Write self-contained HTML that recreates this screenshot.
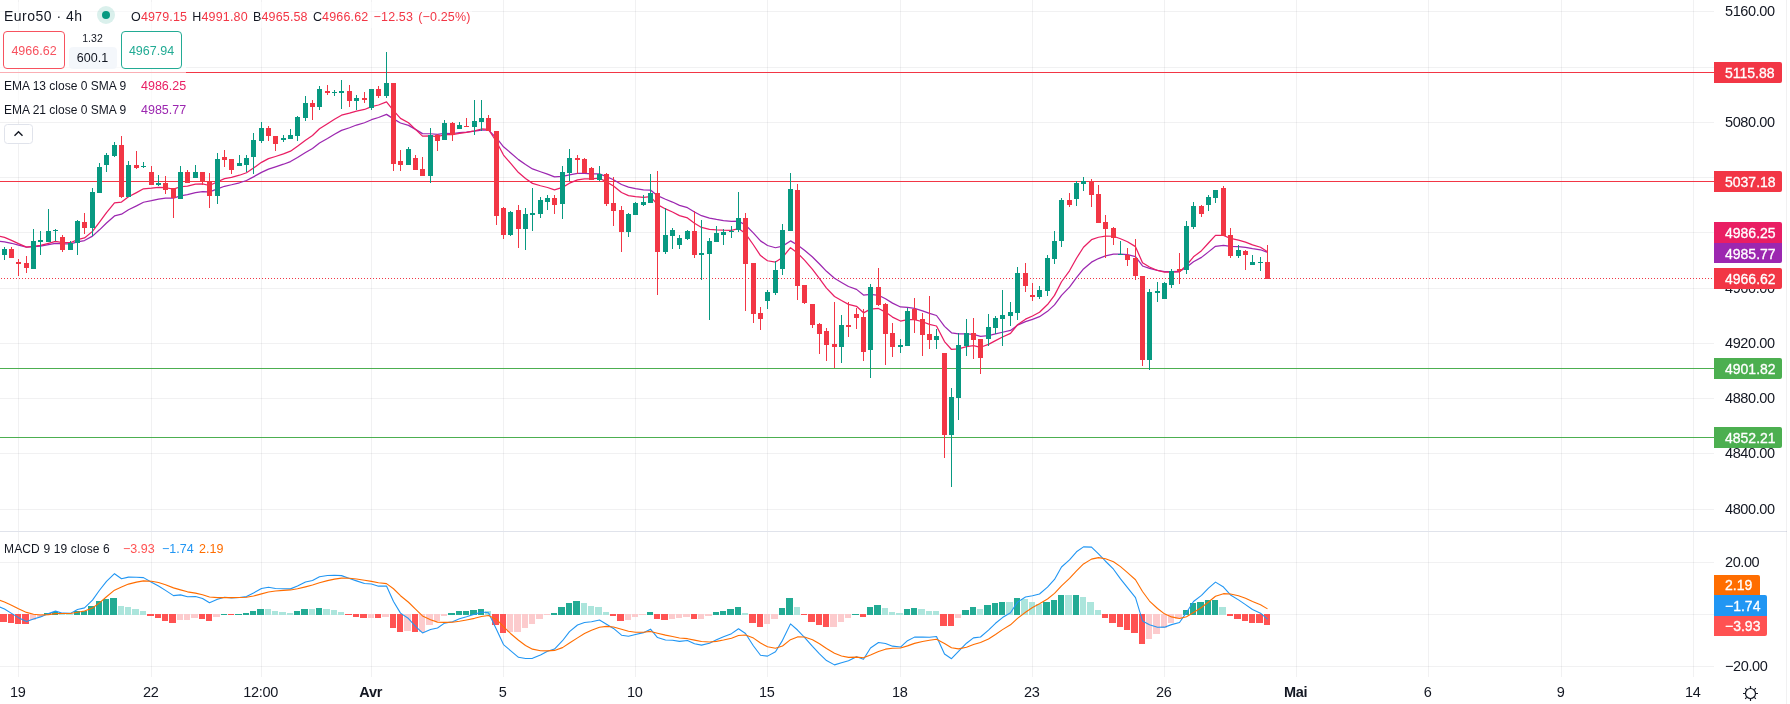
<!DOCTYPE html>
<html><head><meta charset="utf-8">
<style>
html,body{margin:0;padding:0;background:#fff;}
body{width:1790px;height:704px;overflow:hidden;position:relative;font-family:"Liberation Sans",sans-serif;color:#131722;}
svg{position:absolute;left:0;top:0;will-change:transform;}
</style></head><body>
<svg width="1790" height="704" viewBox="0 0 1790 704" shape-rendering="crispEdges">
<g shape-rendering="auto">
<path d="M0 11.5H1714 M0 67.5H1714 M0 122.5H1714 M0 177.5H1714 M0 232.5H1714 M0 288.5H1714 M0 343.5H1714 M0 398.5H1714 M0 453.5H1714 M0 509.5H1714 M0 562.5H1714 M0 614.5H1714 M0 666.5H1714 M18.5 0V531M18.5 532V677 M151.5 0V531M151.5 532V677 M261.5 0V531M261.5 532V677 M371.5 0V531M371.5 532V677 M503.5 0V531M503.5 532V677 M635.5 0V531M635.5 532V677 M767.5 0V531M767.5 532V677 M900.5 0V531M900.5 532V677 M1032.5 0V531M1032.5 532V677 M1164.5 0V531M1164.5 532V677 M1296.5 0V531M1296.5 532V677 M1428.5 0V531M1428.5 532V677 M1561.5 0V531M1561.5 532V677 M1693.5 0V531M1693.5 532V677" stroke="#2A2E39" stroke-opacity="0.065" stroke-width="1" fill="none"/>
<rect x="0" y="531" width="1787" height="1" fill="#E0E3EB"/>
<rect x="1786" y="0" width="1" height="704" fill="#2A2E39" fill-opacity="0.065"/>
<rect x="0" y="72" width="1714" height="1" fill="#F23645"/>
<rect x="0" y="181" width="1714" height="1" fill="#F23645"/>
<rect x="0" y="368" width="1714" height="1" fill="#4CAF50"/>
<rect x="0" y="437" width="1714" height="1" fill="#4CAF50"/>
<line x1="1" y1="278.5" x2="1714" y2="278.5" stroke="#F23645" stroke-width="1" stroke-dasharray="1 2"/>
<polyline points="-3.50,241.10 4.50,241.80 11.50,243.27 18.50,245.13 26.50,247.21 33.50,246.67 40.50,246.06 48.50,244.67 55.50,243.34 62.50,243.94 70.50,243.88 77.50,241.82 84.50,240.52 92.50,236.11 99.50,229.83 106.50,223.02 114.50,215.93 121.50,214.21 128.50,209.74 136.50,205.90 143.50,202.25 151.50,200.63 158.50,199.05 165.50,198.18 173.50,198.17 180.50,195.79 187.50,194.58 195.50,192.53 202.50,191.57 209.50,191.93 217.50,188.96 224.50,186.28 231.50,184.75 239.50,182.78 246.50,180.52 253.50,176.84 261.50,172.40 268.50,169.11 275.50,166.81 283.50,164.21 290.50,161.56 297.50,157.51 305.50,152.57 312.50,148.43 319.50,143.05 327.50,138.50 334.50,134.27 341.50,130.36 349.50,127.72 356.50,125.04 364.50,122.76 371.50,119.71 378.50,117.51 386.50,114.38 393.50,118.86 400.50,123.01 408.50,125.35 415.50,129.37 422.50,133.63 430.50,133.75 437.50,134.43 444.50,133.39 452.50,133.50 459.50,132.72 466.50,132.20 474.50,131.21 481.50,130.01 488.50,130.12 496.50,137.95 503.50,146.77 510.50,152.70 518.50,159.62 525.50,164.54 532.50,168.94 540.50,171.77 547.50,174.15 554.50,176.91 562.50,176.46 569.50,174.79 577.50,173.44 584.50,173.40 591.50,173.96 599.50,173.94 606.50,176.65 613.50,179.72 621.50,184.48 628.50,187.14 635.50,188.58 643.50,189.80 650.50,190.05 657.50,195.68 665.50,199.25 672.50,202.05 679.50,205.32 687.50,207.67 694.50,211.98 701.50,215.71 709.50,218.03 716.50,219.39 723.50,220.54 731.50,221.44 738.50,221.13 745.50,225.00 753.50,233.07 760.50,240.86 767.50,245.51 775.50,247.74 782.50,246.12 790.50,240.91 797.50,244.96 804.50,250.19 812.50,256.99 819.50,263.97 826.50,271.34 834.50,278.22 841.50,282.47 848.50,286.52 856.50,289.38 863.50,295.07 870.50,294.34 878.50,295.26 885.50,298.76 892.50,303.15 900.50,306.95 907.50,307.34 914.50,308.45 922.50,310.82 929.50,313.42 936.50,315.50 944.50,326.36 951.50,332.78 958.50,333.89 966.50,333.81 973.50,334.33 980.50,336.44 988.50,335.58 995.50,333.98 1002.50,332.26 1010.50,330.41 1017.50,325.19 1025.50,321.59 1032.50,319.35 1039.50,316.68 1047.50,311.35 1054.50,304.91 1061.50,295.37 1069.50,287.15 1076.50,277.69 1083.50,268.92 1091.50,262.15 1098.50,258.55 1105.50,255.84 1113.50,254.17 1120.50,254.13 1127.50,254.62 1135.50,256.59 1142.50,265.97 1149.50,268.34 1157.50,270.42 1164.50,271.56 1171.50,271.51 1179.50,271.43 1186.50,267.30 1193.50,261.75 1201.50,257.38 1208.50,251.87 1215.50,246.26 1223.50,245.29 1230.50,246.26 1238.50,246.60 1245.50,247.32 1252.50,248.61 1260.50,249.78 1267.50,252.44" fill="none" stroke="#9C27B0" stroke-width="1.25" stroke-linejoin="round"/>
<polyline points="-3.50,235.50 4.50,237.39 11.50,240.34 18.50,243.68 26.50,247.16 33.50,246.31 40.50,245.41 48.50,243.32 55.50,241.41 62.50,242.64 70.50,242.73 77.50,239.66 84.50,237.92 92.50,231.36 99.50,222.17 106.50,212.57 114.50,202.92 121.50,202.07 128.50,196.78 136.50,192.59 143.50,188.76 151.50,188.15 158.50,187.45 165.50,187.74 173.50,189.21 180.50,186.75 187.50,186.14 195.50,184.12 202.50,183.82 209.50,185.49 217.50,181.74 224.50,178.56 231.50,177.27 239.50,175.23 246.50,172.77 253.50,168.09 261.50,162.36 268.50,158.63 275.50,156.50 283.50,153.90 290.50,151.20 297.50,146.31 305.50,140.16 312.50,135.42 319.50,128.83 327.50,123.71 334.50,119.18 341.50,115.19 349.50,113.20 356.50,111.06 364.50,109.48 371.50,106.59 378.50,105.01 386.50,101.86 393.50,110.70 400.50,118.39 408.50,122.73 415.50,129.41 422.50,136.10 430.50,135.94 437.50,136.70 444.50,134.74 452.50,134.71 459.50,133.32 466.50,132.42 474.50,130.82 481.50,128.99 488.50,129.31 496.50,141.73 503.50,155.06 510.50,163.19 518.50,172.56 525.50,178.44 532.50,183.38 540.50,185.75 547.50,187.50 554.50,189.93 562.50,187.37 569.50,183.17 577.50,179.86 584.50,178.88 591.50,178.97 599.50,178.23 606.50,181.87 613.50,185.96 621.50,192.54 628.50,195.57 635.50,196.63 643.50,197.40 650.50,196.70 657.50,204.60 665.50,208.94 672.50,211.95 679.50,215.67 687.50,217.90 694.50,223.20 701.50,227.45 709.50,229.43 716.50,229.94 723.50,230.23 731.50,230.27 738.50,228.52 745.50,233.55 753.50,245.01 760.50,255.54 767.50,260.75 775.50,262.07 782.50,257.49 790.50,247.67 797.50,253.07 804.50,260.14 812.50,269.40 819.50,278.59 826.50,288.08 834.50,296.50 841.50,300.57 848.50,304.35 856.50,306.30 863.50,312.83 870.50,309.14 878.50,308.47 885.50,312.08 892.50,317.07 900.50,321.06 907.50,319.66 914.50,319.64 922.50,321.76 929.50,324.29 936.50,326.00 944.50,341.57 951.50,349.49 958.50,348.85 966.50,346.59 973.50,345.57 980.50,347.28 988.50,344.38 995.50,340.61 1002.50,336.95 1010.50,333.39 1017.50,324.76 1025.50,319.15 1032.50,315.99 1039.50,312.28 1047.50,304.52 1054.50,295.38 1061.50,281.75 1069.50,270.79 1076.50,258.25 1083.50,247.25 1091.50,239.71 1098.50,237.25 1105.50,236.04 1113.50,236.25 1120.50,238.75 1127.50,241.71 1135.50,246.65 1142.50,262.81 1149.50,266.98 1157.50,270.45 1164.50,272.24 1171.50,272.06 1179.50,271.85 1186.50,265.30 1193.50,256.86 1201.50,250.69 1208.50,243.00 1215.50,235.45 1223.50,235.47 1230.50,238.39 1238.50,240.05 1245.50,242.11 1252.50,244.88 1260.50,247.26 1267.50,251.79" fill="none" stroke="#E91E63" stroke-width="1.25" stroke-linejoin="round"/>
<rect x="4" y="247" width="1" height="13" fill="#089981"/><rect x="2" y="249" width="5" height="6" fill="#089981"/><rect x="11" y="247" width="1" height="11" fill="#F23645"/><rect x="9" y="249" width="5" height="9" fill="#F23645"/><rect x="18" y="259" width="1" height="17" fill="#F23645"/><rect x="16" y="262" width="5" height="2" fill="#F23645"/><rect x="26" y="256" width="1" height="17" fill="#F23645"/><rect x="24" y="263" width="5" height="5" fill="#F23645"/><rect x="33" y="229" width="1" height="40" fill="#089981"/><rect x="31" y="241" width="5" height="28" fill="#089981"/><rect x="40" y="231" width="1" height="24" fill="#089981"/><rect x="38" y="240" width="5" height="2" fill="#089981"/><rect x="48" y="209" width="1" height="33" fill="#089981"/><rect x="46" y="231" width="5" height="11" fill="#089981"/><rect x="55" y="229" width="1" height="12" fill="#089981"/><rect x="53" y="230" width="5" height="1" fill="#089981"/><rect x="62" y="235" width="1" height="17" fill="#F23645"/><rect x="60" y="237" width="5" height="13" fill="#F23645"/><rect x="70" y="241" width="1" height="9" fill="#089981"/><rect x="68" y="243" width="5" height="7" fill="#089981"/><rect x="77" y="220" width="1" height="35" fill="#089981"/><rect x="75" y="221" width="5" height="22" fill="#089981"/><rect x="84" y="213" width="1" height="21" fill="#F23645"/><rect x="82" y="222" width="5" height="6" fill="#F23645"/><rect x="92" y="188" width="1" height="48" fill="#089981"/><rect x="90" y="192" width="5" height="36" fill="#089981"/><rect x="99" y="163" width="1" height="30" fill="#089981"/><rect x="97" y="167" width="5" height="26" fill="#089981"/><rect x="106" y="153" width="1" height="19" fill="#089981"/><rect x="104" y="155" width="5" height="10" fill="#089981"/><rect x="114" y="142" width="1" height="15" fill="#089981"/><rect x="112" y="145" width="5" height="11" fill="#089981"/><rect x="121" y="136" width="1" height="62" fill="#F23645"/><rect x="119" y="145" width="5" height="52" fill="#F23645"/><rect x="128" y="161" width="1" height="36" fill="#089981"/><rect x="126" y="165" width="5" height="32" fill="#089981"/><rect x="136" y="151" width="1" height="18" fill="#F23645"/><rect x="134" y="165" width="5" height="3" fill="#F23645"/><rect x="143" y="162" width="1" height="6" fill="#089981"/><rect x="141" y="166" width="5" height="1" fill="#089981"/><rect x="151" y="166" width="1" height="19" fill="#F23645"/><rect x="149" y="172" width="5" height="13" fill="#F23645"/><rect x="158" y="175" width="1" height="11" fill="#089981"/><rect x="156" y="183" width="5" height="2" fill="#089981"/><rect x="165" y="176" width="1" height="18" fill="#F23645"/><rect x="163" y="183" width="5" height="7" fill="#F23645"/><rect x="173" y="188" width="1" height="30" fill="#F23645"/><rect x="171" y="188" width="5" height="10" fill="#F23645"/><rect x="180" y="166" width="1" height="33" fill="#089981"/><rect x="178" y="172" width="5" height="27" fill="#089981"/><rect x="187" y="170" width="1" height="13" fill="#F23645"/><rect x="185" y="172" width="5" height="11" fill="#F23645"/><rect x="195" y="165" width="1" height="13" fill="#089981"/><rect x="193" y="172" width="5" height="6" fill="#089981"/><rect x="202" y="172" width="1" height="13" fill="#F23645"/><rect x="200" y="172" width="5" height="10" fill="#F23645"/><rect x="209" y="173" width="1" height="35" fill="#F23645"/><rect x="207" y="181" width="5" height="15" fill="#F23645"/><rect x="217" y="153" width="1" height="51" fill="#089981"/><rect x="215" y="159" width="5" height="37" fill="#089981"/><rect x="224" y="150" width="1" height="17" fill="#F23645"/><rect x="222" y="157" width="5" height="3" fill="#F23645"/><rect x="231" y="159" width="1" height="15" fill="#F23645"/><rect x="229" y="159" width="5" height="11" fill="#F23645"/><rect x="239" y="155" width="1" height="11" fill="#089981"/><rect x="237" y="163" width="5" height="3" fill="#089981"/><rect x="246" y="155" width="1" height="17" fill="#089981"/><rect x="244" y="158" width="5" height="7" fill="#089981"/><rect x="253" y="133" width="1" height="41" fill="#089981"/><rect x="251" y="140" width="5" height="17" fill="#089981"/><rect x="261" y="122" width="1" height="21" fill="#089981"/><rect x="259" y="128" width="5" height="13" fill="#089981"/><rect x="268" y="126" width="1" height="15" fill="#F23645"/><rect x="266" y="128" width="5" height="8" fill="#F23645"/><rect x="275" y="136" width="1" height="15" fill="#F23645"/><rect x="273" y="136" width="5" height="8" fill="#F23645"/><rect x="283" y="135" width="1" height="7" fill="#089981"/><rect x="281" y="138" width="5" height="2" fill="#089981"/><rect x="290" y="129" width="1" height="10" fill="#089981"/><rect x="288" y="135" width="5" height="4" fill="#089981"/><rect x="297" y="116" width="1" height="25" fill="#089981"/><rect x="295" y="117" width="5" height="19" fill="#089981"/><rect x="305" y="96" width="1" height="25" fill="#089981"/><rect x="303" y="103" width="5" height="15" fill="#089981"/><rect x="312" y="100" width="1" height="20" fill="#F23645"/><rect x="310" y="103" width="5" height="4" fill="#F23645"/><rect x="319" y="86" width="1" height="24" fill="#089981"/><rect x="317" y="89" width="5" height="18" fill="#089981"/><rect x="327" y="85" width="1" height="10" fill="#F23645"/><rect x="325" y="91" width="5" height="2" fill="#F23645"/><rect x="334" y="90" width="1" height="6" fill="#089981"/><rect x="332" y="92" width="5" height="1" fill="#089981"/><rect x="341" y="80" width="1" height="29" fill="#089981"/><rect x="339" y="91" width="5" height="2" fill="#089981"/><rect x="349" y="85" width="1" height="22" fill="#F23645"/><rect x="347" y="91" width="5" height="10" fill="#F23645"/><rect x="356" y="95" width="1" height="15" fill="#089981"/><rect x="354" y="98" width="5" height="3" fill="#089981"/><rect x="364" y="92" width="1" height="11" fill="#F23645"/><rect x="362" y="98" width="5" height="2" fill="#F23645"/><rect x="371" y="89" width="1" height="21" fill="#089981"/><rect x="369" y="89" width="5" height="19" fill="#089981"/><rect x="378" y="86" width="1" height="12" fill="#F23645"/><rect x="376" y="89" width="5" height="7" fill="#F23645"/><rect x="386" y="52" width="1" height="46" fill="#089981"/><rect x="384" y="83" width="5" height="13" fill="#089981"/><rect x="393" y="83" width="1" height="88" fill="#F23645"/><rect x="391" y="83" width="5" height="81" fill="#F23645"/><rect x="400" y="150" width="1" height="21" fill="#F23645"/><rect x="398" y="161" width="5" height="4" fill="#F23645"/><rect x="408" y="147" width="1" height="18" fill="#089981"/><rect x="406" y="149" width="5" height="16" fill="#089981"/><rect x="415" y="155" width="1" height="15" fill="#F23645"/><rect x="413" y="158" width="5" height="12" fill="#F23645"/><rect x="422" y="157" width="1" height="19" fill="#F23645"/><rect x="420" y="169" width="5" height="7" fill="#F23645"/><rect x="430" y="128" width="1" height="55" fill="#089981"/><rect x="428" y="135" width="5" height="41" fill="#089981"/><rect x="437" y="134" width="1" height="17" fill="#F23645"/><rect x="435" y="135" width="5" height="6" fill="#F23645"/><rect x="444" y="120" width="1" height="20" fill="#089981"/><rect x="442" y="123" width="5" height="17" fill="#089981"/><rect x="452" y="122" width="1" height="19" fill="#F23645"/><rect x="450" y="123" width="5" height="12" fill="#F23645"/><rect x="459" y="122" width="1" height="7" fill="#089981"/><rect x="457" y="125" width="5" height="4" fill="#089981"/><rect x="466" y="118" width="1" height="9" fill="#F23645"/><rect x="464" y="126" width="5" height="1" fill="#F23645"/><rect x="474" y="100" width="1" height="35" fill="#089981"/><rect x="472" y="121" width="5" height="6" fill="#089981"/><rect x="481" y="100" width="1" height="31" fill="#089981"/><rect x="479" y="118" width="5" height="4" fill="#089981"/><rect x="488" y="115" width="1" height="16" fill="#F23645"/><rect x="486" y="118" width="5" height="13" fill="#F23645"/><rect x="496" y="131" width="1" height="94" fill="#F23645"/><rect x="494" y="131" width="5" height="85" fill="#F23645"/><rect x="503" y="207" width="1" height="32" fill="#F23645"/><rect x="501" y="208" width="5" height="27" fill="#F23645"/><rect x="510" y="211" width="1" height="25" fill="#089981"/><rect x="508" y="212" width="5" height="23" fill="#089981"/><rect x="518" y="205" width="1" height="43" fill="#F23645"/><rect x="516" y="210" width="5" height="19" fill="#F23645"/><rect x="525" y="208" width="1" height="42" fill="#089981"/><rect x="523" y="214" width="5" height="15" fill="#089981"/><rect x="532" y="188" width="1" height="43" fill="#089981"/><rect x="530" y="213" width="5" height="2" fill="#089981"/><rect x="540" y="197" width="1" height="21" fill="#089981"/><rect x="538" y="200" width="5" height="14" fill="#089981"/><rect x="547" y="195" width="1" height="15" fill="#089981"/><rect x="545" y="198" width="5" height="4" fill="#089981"/><rect x="554" y="195" width="1" height="19" fill="#F23645"/><rect x="552" y="198" width="5" height="7" fill="#F23645"/><rect x="562" y="166" width="1" height="53" fill="#089981"/><rect x="560" y="172" width="5" height="32" fill="#089981"/><rect x="569" y="149" width="1" height="32" fill="#089981"/><rect x="567" y="158" width="5" height="15" fill="#089981"/><rect x="577" y="155" width="1" height="19" fill="#F23645"/><rect x="575" y="158" width="5" height="2" fill="#F23645"/><rect x="584" y="158" width="1" height="15" fill="#F23645"/><rect x="582" y="159" width="5" height="14" fill="#F23645"/><rect x="591" y="167" width="1" height="13" fill="#F23645"/><rect x="589" y="168" width="5" height="12" fill="#F23645"/><rect x="599" y="166" width="1" height="15" fill="#089981"/><rect x="597" y="174" width="5" height="6" fill="#089981"/><rect x="606" y="173" width="1" height="33" fill="#F23645"/><rect x="604" y="174" width="5" height="30" fill="#F23645"/><rect x="613" y="177" width="1" height="49" fill="#F23645"/><rect x="611" y="203" width="5" height="8" fill="#F23645"/><rect x="621" y="206" width="1" height="46" fill="#F23645"/><rect x="619" y="210" width="5" height="22" fill="#F23645"/><rect x="628" y="213" width="1" height="24" fill="#089981"/><rect x="626" y="214" width="5" height="18" fill="#089981"/><rect x="635" y="202" width="1" height="13" fill="#089981"/><rect x="633" y="203" width="5" height="12" fill="#089981"/><rect x="643" y="195" width="1" height="11" fill="#089981"/><rect x="641" y="202" width="5" height="3" fill="#089981"/><rect x="650" y="174" width="1" height="29" fill="#089981"/><rect x="648" y="193" width="5" height="10" fill="#089981"/><rect x="657" y="171" width="1" height="124" fill="#F23645"/><rect x="655" y="193" width="5" height="59" fill="#F23645"/><rect x="665" y="208" width="1" height="46" fill="#089981"/><rect x="663" y="235" width="5" height="17" fill="#089981"/><rect x="672" y="228" width="1" height="21" fill="#089981"/><rect x="670" y="230" width="5" height="6" fill="#089981"/><rect x="679" y="235" width="1" height="14" fill="#089981"/><rect x="677" y="238" width="5" height="7" fill="#089981"/><rect x="687" y="230" width="1" height="10" fill="#089981"/><rect x="685" y="231" width="5" height="8" fill="#089981"/><rect x="694" y="211" width="1" height="47" fill="#F23645"/><rect x="692" y="231" width="5" height="24" fill="#F23645"/><rect x="701" y="220" width="1" height="60" fill="#089981"/><rect x="699" y="253" width="5" height="2" fill="#089981"/><rect x="709" y="238" width="1" height="82" fill="#089981"/><rect x="707" y="241" width="5" height="13" fill="#089981"/><rect x="716" y="226" width="1" height="16" fill="#089981"/><rect x="714" y="233" width="5" height="9" fill="#089981"/><rect x="723" y="229" width="1" height="16" fill="#089981"/><rect x="721" y="232" width="5" height="3" fill="#089981"/><rect x="731" y="226" width="1" height="12" fill="#089981"/><rect x="729" y="231" width="5" height="1" fill="#089981"/><rect x="738" y="192" width="1" height="40" fill="#089981"/><rect x="736" y="218" width="5" height="12" fill="#089981"/><rect x="745" y="213" width="1" height="98" fill="#F23645"/><rect x="743" y="218" width="5" height="46" fill="#F23645"/><rect x="753" y="263" width="1" height="60" fill="#F23645"/><rect x="751" y="263" width="5" height="51" fill="#F23645"/><rect x="760" y="307" width="1" height="23" fill="#F23645"/><rect x="758" y="313" width="5" height="6" fill="#F23645"/><rect x="767" y="290" width="1" height="19" fill="#089981"/><rect x="765" y="292" width="5" height="9" fill="#089981"/><rect x="775" y="261" width="1" height="34" fill="#089981"/><rect x="773" y="270" width="5" height="23" fill="#089981"/><rect x="782" y="224" width="1" height="51" fill="#089981"/><rect x="780" y="230" width="5" height="39" fill="#089981"/><rect x="790" y="173" width="1" height="58" fill="#089981"/><rect x="788" y="189" width="5" height="42" fill="#089981"/><rect x="797" y="184" width="1" height="116" fill="#F23645"/><rect x="795" y="190" width="5" height="96" fill="#F23645"/><rect x="804" y="285" width="1" height="19" fill="#F23645"/><rect x="802" y="285" width="5" height="18" fill="#F23645"/><rect x="812" y="304" width="1" height="24" fill="#F23645"/><rect x="810" y="304" width="5" height="21" fill="#F23645"/><rect x="819" y="323" width="1" height="31" fill="#F23645"/><rect x="817" y="324" width="5" height="10" fill="#F23645"/><rect x="826" y="328" width="1" height="33" fill="#F23645"/><rect x="824" y="331" width="5" height="14" fill="#F23645"/><rect x="834" y="302" width="1" height="66" fill="#F23645"/><rect x="832" y="344" width="5" height="3" fill="#F23645"/><rect x="841" y="315" width="1" height="48" fill="#089981"/><rect x="839" y="325" width="5" height="22" fill="#089981"/><rect x="848" y="302" width="1" height="35" fill="#F23645"/><rect x="846" y="325" width="5" height="2" fill="#F23645"/><rect x="856" y="308" width="1" height="21" fill="#F23645"/><rect x="854" y="314" width="5" height="4" fill="#F23645"/><rect x="863" y="309" width="1" height="52" fill="#F23645"/><rect x="861" y="317" width="5" height="35" fill="#F23645"/><rect x="870" y="284" width="1" height="94" fill="#089981"/><rect x="868" y="287" width="5" height="63" fill="#089981"/><rect x="878" y="268" width="1" height="38" fill="#F23645"/><rect x="876" y="287" width="5" height="18" fill="#F23645"/><rect x="885" y="303" width="1" height="62" fill="#F23645"/><rect x="883" y="304" width="5" height="30" fill="#F23645"/><rect x="892" y="323" width="1" height="34" fill="#F23645"/><rect x="890" y="333" width="5" height="14" fill="#F23645"/><rect x="900" y="339" width="1" height="14" fill="#089981"/><rect x="898" y="345" width="5" height="2" fill="#089981"/><rect x="907" y="308" width="1" height="38" fill="#089981"/><rect x="905" y="311" width="5" height="35" fill="#089981"/><rect x="914" y="298" width="1" height="35" fill="#F23645"/><rect x="912" y="309" width="5" height="11" fill="#F23645"/><rect x="922" y="313" width="1" height="43" fill="#F23645"/><rect x="920" y="319" width="5" height="16" fill="#F23645"/><rect x="929" y="296" width="1" height="53" fill="#F23645"/><rect x="927" y="334" width="5" height="6" fill="#F23645"/><rect x="936" y="329" width="1" height="20" fill="#089981"/><rect x="934" y="336" width="5" height="4" fill="#089981"/><rect x="944" y="353" width="1" height="105" fill="#F23645"/><rect x="942" y="353" width="5" height="82" fill="#F23645"/><rect x="951" y="388" width="1" height="99" fill="#089981"/><rect x="949" y="397" width="5" height="38" fill="#089981"/><rect x="958" y="333" width="1" height="87" fill="#089981"/><rect x="956" y="345" width="5" height="53" fill="#089981"/><rect x="966" y="319" width="1" height="37" fill="#089981"/><rect x="964" y="333" width="5" height="13" fill="#089981"/><rect x="973" y="318" width="1" height="41" fill="#F23645"/><rect x="971" y="333" width="5" height="7" fill="#F23645"/><rect x="980" y="339" width="1" height="35" fill="#F23645"/><rect x="978" y="339" width="5" height="19" fill="#F23645"/><rect x="988" y="314" width="1" height="32" fill="#089981"/><rect x="986" y="327" width="5" height="12" fill="#089981"/><rect x="995" y="316" width="1" height="18" fill="#089981"/><rect x="993" y="318" width="5" height="10" fill="#089981"/><rect x="1002" y="290" width="1" height="56" fill="#089981"/><rect x="1000" y="315" width="5" height="4" fill="#089981"/><rect x="1010" y="302" width="1" height="24" fill="#089981"/><rect x="1008" y="312" width="5" height="4" fill="#089981"/><rect x="1017" y="267" width="1" height="53" fill="#089981"/><rect x="1015" y="273" width="5" height="40" fill="#089981"/><rect x="1025" y="263" width="1" height="29" fill="#F23645"/><rect x="1023" y="273" width="5" height="13" fill="#F23645"/><rect x="1032" y="283" width="1" height="18" fill="#F23645"/><rect x="1030" y="295" width="5" height="2" fill="#F23645"/><rect x="1039" y="286" width="1" height="13" fill="#089981"/><rect x="1037" y="290" width="5" height="7" fill="#089981"/><rect x="1047" y="255" width="1" height="41" fill="#089981"/><rect x="1045" y="258" width="5" height="33" fill="#089981"/><rect x="1054" y="231" width="1" height="33" fill="#089981"/><rect x="1052" y="241" width="5" height="18" fill="#089981"/><rect x="1061" y="198" width="1" height="49" fill="#089981"/><rect x="1059" y="200" width="5" height="41" fill="#089981"/><rect x="1069" y="193" width="1" height="14" fill="#F23645"/><rect x="1067" y="200" width="5" height="5" fill="#F23645"/><rect x="1076" y="181" width="1" height="25" fill="#089981"/><rect x="1074" y="183" width="5" height="16" fill="#089981"/><rect x="1083" y="177" width="1" height="14" fill="#089981"/><rect x="1081" y="181" width="5" height="3" fill="#089981"/><rect x="1091" y="179" width="1" height="28" fill="#F23645"/><rect x="1089" y="181" width="5" height="14" fill="#F23645"/><rect x="1098" y="185" width="1" height="38" fill="#F23645"/><rect x="1096" y="194" width="5" height="29" fill="#F23645"/><rect x="1105" y="215" width="1" height="43" fill="#F23645"/><rect x="1103" y="222" width="5" height="7" fill="#F23645"/><rect x="1113" y="227" width="1" height="18" fill="#F23645"/><rect x="1111" y="228" width="5" height="10" fill="#F23645"/><rect x="1120" y="241" width="1" height="14" fill="#089981"/><rect x="1118" y="254" width="5" height="1" fill="#089981"/><rect x="1127" y="248" width="1" height="18" fill="#F23645"/><rect x="1125" y="255" width="5" height="5" fill="#F23645"/><rect x="1135" y="239" width="1" height="41" fill="#F23645"/><rect x="1133" y="258" width="5" height="18" fill="#F23645"/><rect x="1142" y="276" width="1" height="90" fill="#F23645"/><rect x="1140" y="276" width="5" height="84" fill="#F23645"/><rect x="1149" y="289" width="1" height="81" fill="#089981"/><rect x="1147" y="292" width="5" height="68" fill="#089981"/><rect x="1157" y="282" width="1" height="20" fill="#089981"/><rect x="1155" y="291" width="5" height="2" fill="#089981"/><rect x="1164" y="282" width="1" height="17" fill="#089981"/><rect x="1162" y="283" width="5" height="16" fill="#089981"/><rect x="1171" y="269" width="1" height="19" fill="#089981"/><rect x="1169" y="271" width="5" height="14" fill="#089981"/><rect x="1179" y="253" width="1" height="31" fill="#F23645"/><rect x="1177" y="269" width="5" height="2" fill="#F23645"/><rect x="1186" y="221" width="1" height="53" fill="#089981"/><rect x="1184" y="226" width="5" height="44" fill="#089981"/><rect x="1193" y="202" width="1" height="27" fill="#089981"/><rect x="1191" y="206" width="5" height="21" fill="#089981"/><rect x="1201" y="205" width="1" height="12" fill="#F23645"/><rect x="1199" y="206" width="5" height="8" fill="#F23645"/><rect x="1208" y="195" width="1" height="16" fill="#089981"/><rect x="1206" y="197" width="5" height="8" fill="#089981"/><rect x="1215" y="190" width="1" height="13" fill="#089981"/><rect x="1213" y="190" width="5" height="8" fill="#089981"/><rect x="1223" y="186" width="1" height="50" fill="#F23645"/><rect x="1221" y="188" width="5" height="48" fill="#F23645"/><rect x="1230" y="228" width="1" height="30" fill="#F23645"/><rect x="1228" y="235" width="5" height="21" fill="#F23645"/><rect x="1238" y="245" width="1" height="13" fill="#089981"/><rect x="1236" y="250" width="5" height="6" fill="#089981"/><rect x="1245" y="250" width="1" height="20" fill="#F23645"/><rect x="1243" y="251" width="5" height="4" fill="#F23645"/><rect x="1252" y="255" width="1" height="10" fill="#089981"/><rect x="1250" y="262" width="5" height="3" fill="#089981"/><rect x="1260" y="257" width="1" height="14" fill="#089981"/><rect x="1258" y="262" width="5" height="1" fill="#089981"/><rect x="1267" y="245" width="1" height="34" fill="#F23645"/><rect x="1265" y="262" width="5" height="17" fill="#F23645"/>
<rect x="0" y="614" width="7" height="8" fill="#FF5252"/><rect x="8" y="614" width="6" height="9" fill="#FF5252"/><rect x="15" y="614" width="6" height="10" fill="#FF5252"/><rect x="22" y="614" width="7" height="10" fill="#FF5252"/><rect x="30" y="614" width="6" height="6" fill="#FCCBCD"/><rect x="37" y="614" width="6" height="3" fill="#FCCBCD"/><rect x="44" y="613" width="7" height="2" fill="#22AB94"/><rect x="52" y="612" width="6" height="3" fill="#22AB94"/><rect x="59" y="614" width="6" height="1" fill="#ACE5DC"/><rect x="66" y="614" width="7" height="1" fill="#ACE5DC"/><rect x="74" y="611" width="6" height="4" fill="#22AB94"/><rect x="81" y="611" width="6" height="4" fill="#22AB94"/><rect x="88" y="606" width="7" height="9" fill="#22AB94"/><rect x="96" y="601" width="6" height="14" fill="#22AB94"/><rect x="103" y="599" width="6" height="16" fill="#22AB94"/><rect x="110" y="598" width="7" height="17" fill="#22AB94"/><rect x="118" y="606" width="6" height="9" fill="#ACE5DC"/><rect x="125" y="607" width="6" height="8" fill="#ACE5DC"/><rect x="132" y="609" width="7" height="6" fill="#ACE5DC"/><rect x="140" y="611" width="6" height="4" fill="#ACE5DC"/><rect x="147" y="614" width="7" height="2" fill="#FF5252"/><rect x="155" y="614" width="6" height="4" fill="#FF5252"/><rect x="162" y="614" width="6" height="7" fill="#FF5252"/><rect x="169" y="614" width="7" height="9" fill="#FF5252"/><rect x="177" y="614" width="6" height="6" fill="#FCCBCD"/><rect x="184" y="614" width="6" height="6" fill="#FCCBCD"/><rect x="191" y="614" width="7" height="4" fill="#FCCBCD"/><rect x="199" y="614" width="6" height="5" fill="#FF5252"/><rect x="206" y="614" width="6" height="7" fill="#FF5252"/><rect x="213" y="614" width="7" height="3" fill="#FCCBCD"/><rect x="221" y="614" width="6" height="1" fill="#22AB94"/><rect x="228" y="614" width="6" height="1" fill="#FF5252"/><rect x="235" y="614" width="7" height="1" fill="#22AB94"/><rect x="243" y="613" width="6" height="2" fill="#22AB94"/><rect x="250" y="611" width="6" height="4" fill="#22AB94"/><rect x="257" y="609" width="7" height="6" fill="#22AB94"/><rect x="265" y="609" width="6" height="6" fill="#ACE5DC"/><rect x="272" y="611" width="6" height="4" fill="#ACE5DC"/><rect x="279" y="612" width="7" height="3" fill="#ACE5DC"/><rect x="287" y="613" width="6" height="2" fill="#ACE5DC"/><rect x="294" y="611" width="6" height="4" fill="#22AB94"/><rect x="301" y="609" width="7" height="6" fill="#22AB94"/><rect x="309" y="609" width="6" height="6" fill="#ACE5DC"/><rect x="316" y="608" width="6" height="7" fill="#22AB94"/><rect x="323" y="609" width="7" height="6" fill="#ACE5DC"/><rect x="331" y="610" width="6" height="5" fill="#ACE5DC"/><rect x="338" y="612" width="6" height="3" fill="#ACE5DC"/><rect x="345" y="614" width="7" height="1" fill="#FF5252"/><rect x="353" y="614" width="6" height="3" fill="#FF5252"/><rect x="360" y="614" width="7" height="4" fill="#FF5252"/><rect x="368" y="614" width="6" height="4" fill="#FCCBCD"/><rect x="375" y="614" width="6" height="4" fill="#FF5252"/><rect x="382" y="614" width="7" height="3" fill="#FCCBCD"/><rect x="390" y="614" width="6" height="14" fill="#FF5252"/><rect x="397" y="614" width="6" height="18" fill="#FF5252"/><rect x="404" y="614" width="7" height="17" fill="#FCCBCD"/><rect x="412" y="614" width="6" height="18" fill="#FF5252"/><rect x="419" y="614" width="6" height="18" fill="#FCCBCD"/><rect x="426" y="614" width="7" height="11" fill="#FCCBCD"/><rect x="434" y="614" width="6" height="7" fill="#FCCBCD"/><rect x="441" y="614" width="6" height="2" fill="#FCCBCD"/><rect x="448" y="613" width="7" height="2" fill="#22AB94"/><rect x="456" y="611" width="6" height="4" fill="#22AB94"/><rect x="463" y="611" width="6" height="4" fill="#22AB94"/><rect x="470" y="610" width="7" height="5" fill="#22AB94"/><rect x="478" y="609" width="6" height="6" fill="#22AB94"/><rect x="485" y="611" width="6" height="4" fill="#ACE5DC"/><rect x="492" y="614" width="7" height="11" fill="#FF5252"/><rect x="500" y="614" width="6" height="19" fill="#FF5252"/><rect x="507" y="614" width="6" height="18" fill="#FCCBCD"/><rect x="514" y="614" width="7" height="18" fill="#FCCBCD"/><rect x="522" y="614" width="6" height="14" fill="#FCCBCD"/><rect x="529" y="614" width="6" height="10" fill="#FCCBCD"/><rect x="536" y="614" width="7" height="5" fill="#FCCBCD"/><rect x="544" y="614" width="6" height="1" fill="#FCCBCD"/><rect x="551" y="613" width="6" height="2" fill="#22AB94"/><rect x="558" y="607" width="7" height="8" fill="#22AB94"/><rect x="566" y="603" width="6" height="12" fill="#22AB94"/><rect x="573" y="601" width="7" height="14" fill="#22AB94"/><rect x="581" y="603" width="6" height="12" fill="#ACE5DC"/><rect x="588" y="606" width="6" height="9" fill="#ACE5DC"/><rect x="595" y="607" width="7" height="8" fill="#ACE5DC"/><rect x="603" y="612" width="6" height="3" fill="#ACE5DC"/><rect x="610" y="614" width="6" height="2" fill="#FF5252"/><rect x="617" y="614" width="7" height="7" fill="#FF5252"/><rect x="625" y="614" width="6" height="6" fill="#FCCBCD"/><rect x="632" y="614" width="6" height="3" fill="#FCCBCD"/><rect x="639" y="614" width="7" height="1" fill="#FCCBCD"/><rect x="647" y="612" width="6" height="3" fill="#22AB94"/><rect x="654" y="614" width="6" height="5" fill="#FF5252"/><rect x="661" y="614" width="7" height="6" fill="#FF5252"/><rect x="669" y="614" width="6" height="5" fill="#FCCBCD"/><rect x="676" y="614" width="6" height="4" fill="#FCCBCD"/><rect x="683" y="614" width="7" height="3" fill="#FCCBCD"/><rect x="691" y="614" width="6" height="5" fill="#FF5252"/><rect x="698" y="614" width="6" height="5" fill="#FCCBCD"/><rect x="705" y="614" width="7" height="2" fill="#FCCBCD"/><rect x="713" y="612" width="6" height="3" fill="#22AB94"/><rect x="720" y="611" width="6" height="4" fill="#22AB94"/><rect x="727" y="609" width="7" height="6" fill="#22AB94"/><rect x="735" y="607" width="6" height="8" fill="#22AB94"/><rect x="742" y="613" width="6" height="2" fill="#ACE5DC"/><rect x="749" y="614" width="7" height="9" fill="#FF5252"/><rect x="757" y="614" width="6" height="13" fill="#FF5252"/><rect x="764" y="614" width="6" height="10" fill="#FCCBCD"/><rect x="771" y="614" width="7" height="5" fill="#FCCBCD"/><rect x="779" y="608" width="6" height="7" fill="#22AB94"/><rect x="786" y="598" width="7" height="17" fill="#22AB94"/><rect x="794" y="607" width="6" height="8" fill="#ACE5DC"/><rect x="801" y="614" width="6" height="1" fill="#FF5252"/><rect x="808" y="614" width="7" height="8" fill="#FF5252"/><rect x="816" y="614" width="6" height="11" fill="#FF5252"/><rect x="823" y="614" width="6" height="13" fill="#FF5252"/><rect x="830" y="614" width="7" height="13" fill="#FCCBCD"/><rect x="838" y="614" width="6" height="8" fill="#FCCBCD"/><rect x="845" y="614" width="6" height="4" fill="#FCCBCD"/><rect x="852" y="614" width="7" height="1" fill="#22AB94"/><rect x="860" y="614" width="6" height="3" fill="#FF5252"/><rect x="867" y="607" width="6" height="8" fill="#22AB94"/><rect x="874" y="605" width="7" height="10" fill="#22AB94"/><rect x="882" y="608" width="6" height="7" fill="#ACE5DC"/><rect x="889" y="612" width="6" height="3" fill="#ACE5DC"/><rect x="896" y="613" width="7" height="2" fill="#ACE5DC"/><rect x="904" y="609" width="6" height="6" fill="#22AB94"/><rect x="911" y="608" width="6" height="7" fill="#22AB94"/><rect x="918" y="609" width="7" height="6" fill="#ACE5DC"/><rect x="926" y="611" width="6" height="4" fill="#ACE5DC"/><rect x="933" y="611" width="6" height="4" fill="#ACE5DC"/><rect x="940" y="614" width="7" height="12" fill="#FF5252"/><rect x="948" y="614" width="6" height="12" fill="#FF5252"/><rect x="955" y="614" width="6" height="4" fill="#FCCBCD"/><rect x="962" y="610" width="7" height="5" fill="#22AB94"/><rect x="970" y="607" width="6" height="8" fill="#22AB94"/><rect x="977" y="609" width="6" height="6" fill="#ACE5DC"/><rect x="984" y="605" width="7" height="10" fill="#22AB94"/><rect x="992" y="603" width="6" height="12" fill="#22AB94"/><rect x="999" y="602" width="6" height="13" fill="#22AB94"/><rect x="1006" y="602" width="7" height="13" fill="#ACE5DC"/><rect x="1014" y="598" width="6" height="17" fill="#22AB94"/><rect x="1021" y="599" width="7" height="16" fill="#ACE5DC"/><rect x="1029" y="602" width="6" height="13" fill="#ACE5DC"/><rect x="1036" y="604" width="6" height="11" fill="#ACE5DC"/><rect x="1043" y="602" width="7" height="13" fill="#22AB94"/><rect x="1051" y="600" width="6" height="15" fill="#22AB94"/><rect x="1058" y="595" width="6" height="20" fill="#22AB94"/><rect x="1065" y="595" width="7" height="20" fill="#ACE5DC"/><rect x="1073" y="595" width="6" height="20" fill="#22AB94"/><rect x="1080" y="597" width="6" height="18" fill="#ACE5DC"/><rect x="1087" y="602" width="7" height="13" fill="#ACE5DC"/><rect x="1095" y="610" width="6" height="5" fill="#ACE5DC"/><rect x="1102" y="614" width="6" height="4" fill="#FF5252"/><rect x="1109" y="614" width="7" height="9" fill="#FF5252"/><rect x="1117" y="614" width="6" height="13" fill="#FF5252"/><rect x="1124" y="614" width="6" height="16" fill="#FF5252"/><rect x="1131" y="614" width="7" height="19" fill="#FF5252"/><rect x="1139" y="614" width="6" height="30" fill="#FF5252"/><rect x="1146" y="614" width="6" height="25" fill="#FCCBCD"/><rect x="1153" y="614" width="7" height="20" fill="#FCCBCD"/><rect x="1161" y="614" width="6" height="14" fill="#FCCBCD"/><rect x="1168" y="614" width="6" height="9" fill="#FCCBCD"/><rect x="1175" y="614" width="7" height="5" fill="#FCCBCD"/><rect x="1183" y="610" width="6" height="5" fill="#22AB94"/><rect x="1190" y="603" width="6" height="12" fill="#22AB94"/><rect x="1197" y="602" width="7" height="13" fill="#22AB94"/><rect x="1205" y="600" width="6" height="15" fill="#22AB94"/><rect x="1212" y="600" width="6" height="15" fill="#22AB94"/><rect x="1219" y="607" width="7" height="8" fill="#ACE5DC"/><rect x="1227" y="614" width="6" height="2" fill="#FF5252"/><rect x="1234" y="614" width="7" height="5" fill="#FF5252"/><rect x="1242" y="614" width="6" height="7" fill="#FF5252"/><rect x="1249" y="614" width="6" height="9" fill="#FF5252"/><rect x="1256" y="614" width="7" height="9" fill="#FF5252"/><rect x="1264" y="614" width="6" height="11" fill="#FF5252"/>
<polyline points="-3.50,605.57 4.50,609.05 11.50,613.40 18.50,617.64 26.50,621.42 33.50,618.98 40.50,616.90 48.50,613.61 55.50,611.13 62.50,613.16 70.50,613.38 77.50,609.43 84.50,607.86 92.50,600.19 99.50,590.26 106.50,581.33 114.50,573.69 121.50,578.78 128.50,577.14 136.50,577.18 143.50,577.63 151.50,582.21 158.50,585.92 165.50,590.34 173.50,595.60 180.50,594.88 187.50,596.73 195.50,596.44 202.50,598.47 209.50,602.79 217.50,599.33 224.50,597.18 231.50,597.86 239.50,597.46 246.50,596.58 253.50,592.91 261.50,588.45 268.50,587.31 275.50,588.44 283.50,588.75 290.50,588.87 297.50,586.09 305.50,582.07 312.50,580.53 319.50,576.76 327.50,575.51 334.50,575.20 341.50,575.62 349.50,578.58 356.50,580.87 364.50,583.52 371.50,584.02 378.50,586.17 386.50,585.93 393.50,601.51 400.50,613.13 408.50,618.56 415.50,626.29 422.50,632.89 430.50,629.52 437.50,627.97 444.50,623.15 452.50,621.67 459.50,618.68 466.50,616.81 474.50,614.34 481.50,611.96 488.50,612.78 496.50,629.39 503.50,644.57 510.50,650.57 518.50,657.32 525.50,658.51 532.50,658.34 540.50,654.90 547.50,651.24 554.50,649.09 562.50,640.74 569.50,631.57 577.50,625.01 584.50,622.51 591.50,621.78 599.50,620.03 606.50,624.29 613.50,628.43 621.50,635.18 628.50,636.19 635.50,634.47 643.50,632.64 650.50,629.17 657.50,637.57 665.50,639.95 672.50,640.22 679.50,641.41 687.50,640.45 694.50,643.71 701.50,645.10 709.50,643.27 716.50,639.84 723.50,636.66 731.50,633.66 738.50,628.76 745.50,633.55 753.50,646.01 760.50,655.29 767.50,656.13 775.50,651.77 782.50,640.36 790.50,623.88 797.50,630.01 804.50,637.31 812.50,646.34 819.50,653.85 826.50,660.58 834.50,664.88 841.50,662.84 848.50,660.77 856.50,656.67 863.50,659.26 870.50,648.02 878.50,642.54 885.50,643.53 892.50,646.16 900.50,647.04 907.50,640.68 914.50,637.13 922.50,636.94 929.50,637.29 936.50,636.48 944.50,654.01 951.50,658.71 958.50,651.43 966.50,643.19 973.50,637.91 980.50,637.03 988.50,630.20 995.50,623.29 1002.50,617.57 1010.50,612.82 1017.50,602.11 1025.50,596.99 1032.50,595.82 1039.50,594.04 1047.50,587.15 1054.50,579.44 1061.50,566.99 1069.50,559.91 1076.50,551.77 1083.50,546.83 1091.50,547.12 1098.50,553.94 1105.50,561.24 1113.50,569.20 1120.50,578.89 1127.50,587.67 1135.50,597.67 1142.50,620.91 1149.50,624.77 1157.50,627.20 1164.50,627.15 1171.50,624.61 1179.50,622.49 1186.50,612.43 1193.50,601.51 1201.50,595.31 1208.50,588.06 1215.50,582.12 1223.50,587.03 1230.50,594.93 1238.50,599.90 1245.50,604.61 1252.50,609.52 1260.50,613.16 1267.50,619.09" fill="none" stroke="#2196F3" stroke-width="1.1" stroke-linejoin="round"/>
<polyline points="-3.50,599.16 4.50,601.99 11.50,605.25 18.50,608.79 26.50,612.40 33.50,614.28 40.50,615.03 48.50,614.62 55.50,613.62 62.50,613.49 70.50,613.46 77.50,612.31 84.50,611.04 92.50,607.94 99.50,602.89 106.50,596.73 114.50,590.15 121.50,586.90 128.50,584.11 136.50,582.13 143.50,580.85 151.50,581.24 158.50,582.57 165.50,584.79 173.50,587.88 180.50,589.88 187.50,591.84 195.50,593.15 202.50,594.67 209.50,596.99 217.50,597.66 224.50,597.52 231.50,597.62 239.50,597.57 246.50,597.29 253.50,596.04 261.50,593.87 268.50,592.00 275.50,590.98 283.50,590.34 290.50,589.92 297.50,588.83 305.50,586.90 312.50,585.08 319.50,582.70 327.50,580.65 334.50,579.09 341.50,578.10 349.50,578.24 356.50,578.99 364.50,580.28 371.50,581.35 378.50,582.73 386.50,583.64 393.50,588.75 400.50,595.72 408.50,602.24 415.50,609.11 422.50,615.91 430.50,619.80 437.50,622.13 444.50,622.42 452.50,622.21 459.50,621.20 466.50,619.95 474.50,618.34 481.50,616.52 488.50,615.45 496.50,619.43 503.50,626.61 510.50,633.46 518.50,640.28 525.50,645.49 532.50,649.16 540.50,650.80 547.50,650.92 554.50,650.40 562.50,647.64 569.50,643.05 577.50,637.90 584.50,633.50 591.50,630.15 599.50,627.26 606.50,626.41 613.50,626.99 621.50,629.33 628.50,631.29 635.50,632.20 643.50,632.32 650.50,631.42 657.50,633.18 665.50,635.11 672.50,636.57 679.50,637.96 687.50,638.67 694.50,640.11 701.50,641.53 709.50,642.03 716.50,641.40 723.50,640.05 731.50,638.22 738.50,635.52 745.50,634.96 753.50,638.11 760.50,643.02 767.50,646.77 775.50,648.20 782.50,645.96 790.50,639.65 797.50,636.90 804.50,637.02 812.50,639.68 819.50,643.73 826.50,648.54 834.50,653.21 841.50,655.96 848.50,657.34 856.50,657.15 863.50,657.75 870.50,654.97 878.50,651.42 885.50,649.17 892.50,648.31 900.50,647.94 907.50,645.87 914.50,643.37 922.50,641.53 929.50,640.32 936.50,639.22 944.50,643.45 951.50,647.81 958.50,648.84 966.50,647.23 973.50,644.57 980.50,642.41 988.50,638.92 995.50,634.46 1002.50,629.63 1010.50,624.83 1017.50,618.34 1025.50,612.24 1032.50,607.55 1039.50,603.69 1047.50,598.96 1054.50,593.39 1061.50,585.84 1069.50,578.43 1076.50,570.81 1083.50,563.96 1091.50,559.15 1098.50,557.66 1105.50,558.68 1113.50,561.69 1120.50,566.60 1127.50,572.62 1135.50,579.78 1142.50,591.53 1149.50,601.03 1157.50,608.50 1164.50,613.83 1171.50,616.91 1179.50,618.51 1186.50,616.77 1193.50,612.41 1201.50,607.52 1208.50,601.96 1215.50,596.29 1223.50,593.65 1230.50,594.01 1238.50,595.70 1245.50,598.24 1252.50,601.47 1260.50,604.81 1267.50,608.89" fill="none" stroke="#FF6D00" stroke-width="1.1" stroke-linejoin="round"/>
</g>
<!-- legend overlay -->
<rect x="0" y="2" width="472" height="26" fill="#fff" fill-opacity="0.5"/>
<rect x="0" y="28" width="186" height="92" fill="#fff" fill-opacity="0.6"/>
<g font-family="Liberation Sans, sans-serif" shape-rendering="auto">
<text x="4" y="21" font-size="14" letter-spacing="0.5" fill="#131722">Euro50 · 4h</text>
<circle cx="106" cy="15" r="9" fill="#089981" fill-opacity="0.15"/>
<circle cx="106" cy="15" r="4" fill="#089981"/>
<text x="131" y="21" font-size="12.5" letter-spacing="0.15" word-spacing="1.6" fill="#131722">O<tspan fill="#F23645">4979.15</tspan> H<tspan fill="#F23645">4991.80</tspan> B<tspan fill="#F23645">4965.58</tspan> C<tspan fill="#F23645">4966.62</tspan> <tspan fill="#F23645">−12.53 (−0.25%)</tspan></text>
<rect x="3.5" y="31.5" width="61" height="37" rx="3.5" fill="#fff" stroke="#F7525F"/>
<text x="34" y="55" font-size="12.5" fill="#F7525F" text-anchor="middle">4966.62</text>
<text x="92.5" y="42" font-size="10.5" fill="#131722" text-anchor="middle">1.32</text>
<rect x="69" y="47" width="48" height="22" rx="4" fill="#F0F3FA" fill-opacity="0.7"/>
<text x="92.5" y="62" font-size="12.5" fill="#131722" text-anchor="middle">600.1</text>
<rect x="121.5" y="31.5" width="60" height="37" rx="3.5" fill="#fff" stroke="#22AB94"/>
<text x="151.5" y="55" font-size="12.5" fill="#22AB94" text-anchor="middle">4967.94</text>
<text x="4" y="90" font-size="12" fill="#131722">EMA 13 close 0 SMA 9</text>
<text x="141" y="90" font-size="12.5" fill="#E91E63">4986.25</text>
<text x="4" y="114" font-size="12" fill="#131722">EMA 21 close 0 SMA 9</text>
<text x="141" y="114" font-size="12.5" fill="#9C27B0">4985.77</text>
<rect x="4.5" y="124.5" width="28" height="19" rx="3" fill="#fff" stroke="#E0E3EB"/>
<path d="M14.5 135.8 L18.5 131.8 L22.5 135.8" fill="none" stroke="#131722" stroke-width="1.4"/>
<!-- MACD legend -->
<text x="4" y="553" font-size="12" letter-spacing="0.15" fill="#131722">MACD 9 19 close 6</text>
<text x="123" y="553" font-size="12.5" fill="#FF5252">−3.93</text>
<text x="162" y="553" font-size="12.5" fill="#2196F3">−1.74</text>
<text x="199" y="553" font-size="12.5" fill="#FF6D00">2.19</text>
<!-- price scale -->
<g font-size="14.5" letter-spacing="-0.4" fill="#131722">
<text x="1725" y="16">5160.00</text>
<text x="1725" y="127">5080.00</text>
<text x="1725" y="293">4960.00</text>
<text x="1725" y="348">4920.00</text>
<text x="1725" y="403">4880.00</text>
<text x="1725" y="458">4840.00</text>
<text x="1725" y="514">4800.00</text>
<text x="1725" y="567">20.00</text>
<text x="1725" y="671">−20.00</text>
</g>
<path d="M1714 62H1780Q1782 62 1782 64V81Q1782 83 1780 83H1714Z" fill="#F23645"/>
<path d="M1714 171H1780Q1782 171 1782 173V190Q1782 192 1780 192H1714Z" fill="#F23645"/>
<path d="M1714 222H1780Q1782 222 1782 224V243H1714Z" fill="#E91E63"/>
<path d="M1714 243H1782V261Q1782 263 1780 263H1714Z" fill="#9C27B0"/>
<path d="M1714 268H1780Q1782 268 1782 270V287Q1782 289 1780 289H1714Z" fill="#F23645"/>
<path d="M1714 358H1780Q1782 358 1782 360V377Q1782 379 1780 379H1714Z" fill="#4CAF50"/>
<path d="M1714 427H1780Q1782 427 1782 429V446Q1782 448 1780 448H1714Z" fill="#4CAF50"/>
<path d="M1714 575H1758Q1760 575 1760 577V595H1714Z" fill="#FF6D00"/>
<path d="M1714 595H1765Q1767 595 1767 597V616H1714Z" fill="#2196F3"/>
<path d="M1714 616H1767V634Q1767 636 1765 636H1714Z" fill="#FF5252"/>
<g font-size="14" fill="#fff" stroke="#fff" stroke-width="0.3" letter-spacing="0">
<text x="1725" y="77.5">5115.88</text>
<text x="1725" y="186.5">5037.18</text>
<text x="1725" y="237.5">4986.25</text>
<text x="1725" y="258.5">4985.77</text>
<text x="1725" y="283.5">4966.62</text>
<text x="1725" y="373.5">4901.82</text>
<text x="1725" y="442.5">4852.21</text>
<text x="1725" y="590">2.19</text>
<text x="1725" y="611">−1.74</text>
<text x="1725" y="631">−3.93</text>
</g>
<!-- time axis -->
<g font-size="14.5" letter-spacing="-0.3" fill="#131722" text-anchor="middle">
<text x="17.7" y="697">19</text>
<text x="150.7" y="697">22</text>
<text x="260.7" y="697">12:00</text>
<text x="370.7" y="697" font-weight="bold">Avr</text>
<text x="502.7" y="697">5</text>
<text x="634.7" y="697">10</text>
<text x="766.7" y="697">15</text>
<text x="899.7" y="697">18</text>
<text x="1031.7" y="697">23</text>
<text x="1163.7" y="697">26</text>
<text x="1295.7" y="697" font-weight="bold">Mai</text>
<text x="1427.7" y="697">6</text>
<text x="1560.7" y="697">9</text>
<text x="1692.7" y="697">14</text>
</g>
<!-- gear -->
<g transform="translate(1750.5 693.5)" stroke="#131722" stroke-width="1.2" fill="none">
<circle r="5"/>
<path d="M0 -7.5V-5.5M0 5.5V7.5M-7.5 0H-5.5M5.5 0H7.5M-5.3 -5.3L-3.9 -3.9M5.3 5.3L3.9 3.9M-5.3 5.3L-3.9 3.9M5.3 -5.3L3.9 -3.9"/>
</g>
</g>
</svg>
</body></html>
